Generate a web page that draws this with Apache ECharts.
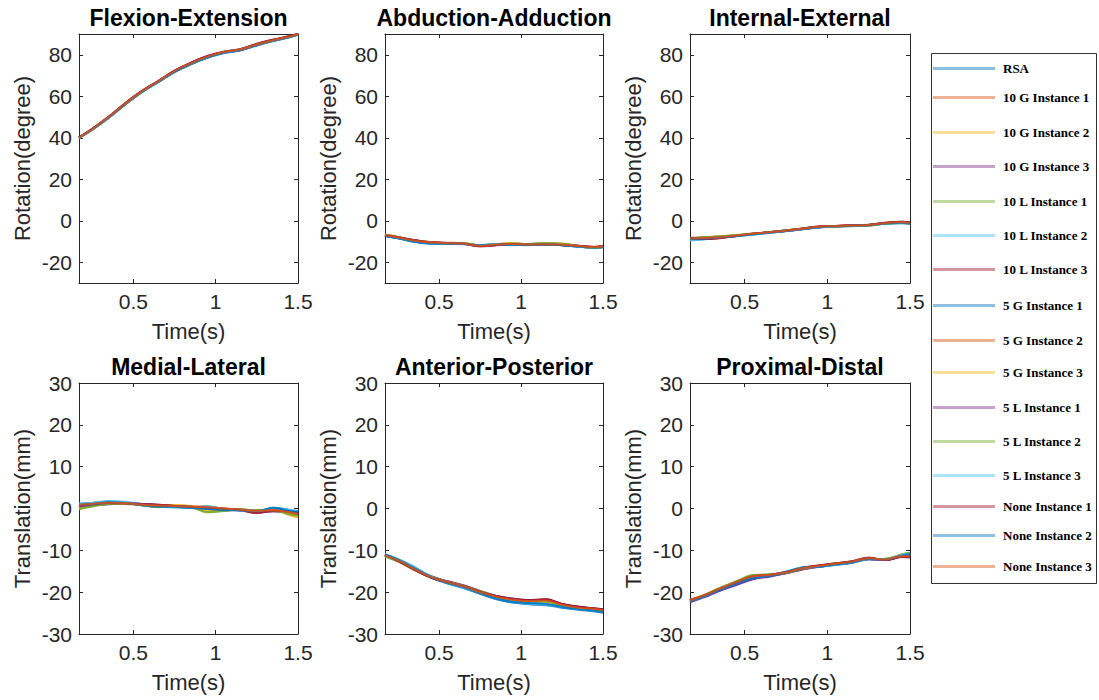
<!DOCTYPE html>
<html>
<head>
<meta charset="utf-8">
<script src="https://cdn.jsdelivr.net/npm/echarts@6/dist/echarts.min.js"></script>
<style>html,body{margin:0;padding:0;background:#fff}#c{width:1099px;height:700px}</style>
</head>
<body>
<div id="c"></div>
<script>
// ---------- data ----------
const time = [0.17, 0.25, 0.35, 0.45, 0.55, 0.65, 0.75, 0.85, 0.95, 1.05, 1.15, 1.25, 1.35, 1.45, 1.5];
const seriesNames = ['RSA','10 G Instance 1','10 G Instance 2','10 G Instance 3','10 L Instance 1','10 L Instance 2','10 L Instance 3','5 G Instance 1','5 G Instance 2','5 G Instance 3','5 L Instance 1','5 L Instance 2','5 L Instance 3','None Instance 1','None Instance 2','None Instance 3'];
const titles = ['Flexion-Extension','Abduction-Adduction','Internal-External','Medial-Lateral','Anterior-Posterior','Proximal-Distal'];
const rotTicks = [-20, 0, 20, 40, 60, 80];
const transTicks = [-30, -20, -10, 0, 10, 20, 30];
const timeTicks = [0.5, 1, 1.5];

const flexionExtension = [
 [40.1,44.2,49.6,56.0,62.0,66.8,71.6,75.4,78.5,80.8,82.2,84.5,86.6,88.5,89.7],
 [40.0,44.1,49.9,56.4,62.4,67.1,72.1,76.0,79.2,81.3,82.6,85.0,87.1,88.8,89.9],
 [39.9,43.9,49.7,56.1,62.1,67.0,71.9,75.7,78.9,81.1,82.4,84.9,86.9,88.6,89.8],
 [40.2,44.0,50.0,56.5,62.3,67.2,72.2,76.2,79.4,81.0,82.3,84.8,87.0,88.7,90.0],
 [40.0,43.8,49.6,56.0,62.0,66.9,71.8,75.6,78.8,81.2,82.6,85.1,87.2,88.9,89.8],
 [39.8,44.1,49.9,56.3,62.2,67.0,72.0,75.8,79.0,81.4,82.7,85.2,87.1,88.8,89.9],
 [40.1,44.3,50.1,56.6,62.5,67.3,72.3,76.1,79.3,81.5,82.8,85.3,87.3,89.0,90.1],
 [40.0,44.0,49.7,56.1,61.9,66.7,71.7,75.5,78.7,80.9,82.2,84.6,86.7,88.5,89.6],
 [40.1,44.2,50.0,56.4,62.3,67.1,72.1,75.9,79.1,81.3,82.6,85.0,87.0,88.8,89.9],
 [39.9,43.9,49.8,56.2,62.1,66.9,71.9,75.7,78.9,81.1,82.5,84.9,86.9,88.7,89.8],
 [40.0,44.1,49.9,56.3,62.2,67.0,72.0,75.9,79.2,81.2,82.4,84.8,86.9,88.6,89.8],
 [40.2,44.0,49.8,56.2,62.1,67.0,72.0,75.8,79.0,81.2,82.5,85.0,87.0,88.7,89.9],
 [39.9,43.8,49.6,56.0,62.0,66.8,71.8,75.6,78.8,81.0,82.4,84.8,86.8,88.6,89.7],
 [40.1,44.2,50.1,56.5,62.4,67.2,72.2,76.0,79.3,81.4,82.6,85.1,87.2,88.9,90.0],
 [40.0,44.0,49.8,56.1,62.0,66.9,71.8,75.6,78.8,81.0,82.3,84.7,86.8,88.6,89.8],
 [40.0,44.1,50.0,56.3,62.2,67.1,72.1,75.9,79.1,81.3,82.5,84.9,87.0,88.8,89.9]
];
const abductionAdduction = [
 [-7.2,-8.3,-10.0,-11.0,-11.1,-11.2,-11.8,-11.3,-11.4,-11.7,-11.5,-11.8,-12.4,-12.9,-12.6],
 [-6.8,-7.8,-9.3,-10.4,-10.6,-10.9,-12.1,-11.6,-11.0,-11.4,-11.1,-11.3,-12.0,-12.6,-12.1],
 [-7.0,-8.1,-9.6,-10.2,-10.9,-10.8,-11.9,-11.2,-10.8,-11.3,-10.9,-11.0,-12.1,-12.7,-12.2],
 [-7.3,-8.2,-9.4,-10.6,-10.7,-11.1,-12.2,-11.7,-11.3,-11.6,-11.3,-11.6,-12.3,-12.9,-12.4],
 [-6.9,-8.0,-9.7,-10.5,-11.0,-11.0,-12.0,-11.4,-11.1,-11.2,-10.8,-11.2,-12.4,-13.2,-12.8],
 [-7.1,-8.4,-10.1,-10.9,-11.2,-11.3,-11.7,-11.2,-11.5,-11.8,-11.4,-11.7,-12.3,-12.8,-12.5],
 [-7.0,-7.9,-9.4,-10.4,-10.7,-11.0,-12.3,-11.8,-11.2,-11.5,-11.4,-11.8,-12.2,-12.6,-12.0],
 [-7.4,-8.5,-10.2,-11.1,-11.2,-11.1,-11.9,-11.4,-11.6,-11.6,-11.5,-11.7,-12.5,-13.0,-12.7],
 [-6.9,-7.9,-9.5,-10.5,-10.8,-11.0,-12.0,-11.5,-11.2,-11.5,-11.2,-11.5,-12.2,-12.7,-12.2],
 [-7.0,-8.0,-9.6,-10.3,-10.9,-10.9,-11.8,-11.3,-10.9,-11.4,-11.0,-11.2,-12.2,-12.9,-12.5],
 [-7.2,-8.1,-9.5,-10.6,-10.8,-11.1,-12.1,-11.6,-11.2,-11.6,-11.3,-11.5,-12.2,-12.8,-12.3],
 [-6.8,-7.9,-9.6,-10.5,-10.9,-10.9,-11.9,-11.3,-11.0,-11.2,-10.8,-11.1,-12.3,-13.1,-12.7],
 [-7.1,-8.3,-9.9,-10.8,-11.1,-11.2,-11.8,-11.3,-11.4,-11.7,-11.4,-11.7,-12.4,-12.9,-12.5],
 [-7.0,-8.0,-9.4,-10.4,-10.8,-11.1,-12.3,-11.7,-11.2,-11.6,-11.4,-11.7,-12.1,-12.6,-12.1],
 [-7.3,-8.4,-10.0,-10.9,-11.1,-11.1,-11.8,-11.4,-11.5,-11.6,-11.5,-11.8,-12.4,-12.9,-12.6],
 [-7.0,-8.1,-9.6,-10.5,-10.8,-11.0,-12.1,-11.5,-11.2,-11.5,-11.3,-11.6,-12.2,-12.7,-12.3]
];
const internalExternal = [
 [-9.2,-8.8,-8.0,-7.4,-6.6,-5.8,-5.0,-4.1,-3.3,-2.8,-2.5,-2.3,-1.5,-1.2,-1.5],
 [-8.4,-8.2,-7.7,-7.0,-6.2,-5.5,-4.7,-3.8,-2.9,-2.5,-2.2,-2.0,-1.1,-0.6,-0.9],
 [-8.5,-8.0,-7.5,-6.9,-6.3,-5.6,-4.8,-3.9,-3.0,-2.7,-2.3,-2.2,-1.3,-0.9,-1.2],
 [-8.3,-8.3,-7.9,-7.2,-6.4,-5.7,-4.9,-4.0,-3.0,-2.6,-2.4,-2.1,-1.2,-0.8,-1.0],
 [-8.7,-8.1,-7.6,-7.1,-6.3,-5.5,-4.6,-3.8,-2.9,-2.7,-2.5,-2.3,-1.3,-0.9,-1.3],
 [-9.5,-9.0,-8.2,-7.5,-6.7,-5.9,-5.0,-4.1,-3.2,-2.8,-2.5,-2.2,-1.4,-1.1,-1.4],
 [-8.5,-8.7,-8.3,-7.3,-6.3,-5.6,-4.8,-3.7,-2.8,-2.5,-2.2,-1.9,-1.0,-0.5,-0.7],
 [-8.8,-8.5,-7.9,-7.2,-6.5,-5.7,-4.9,-4.0,-3.1,-2.7,-2.4,-2.2,-1.3,-0.9,-1.2],
 [-8.4,-8.2,-7.8,-7.1,-6.3,-5.5,-4.7,-3.8,-2.9,-2.6,-2.3,-2.0,-1.1,-0.7,-0.9],
 [-8.6,-8.1,-7.6,-7.0,-6.2,-5.5,-4.7,-3.9,-3.0,-2.6,-2.3,-2.2,-1.2,-0.8,-1.1],
 [-8.2,-8.2,-7.8,-7.2,-6.4,-5.6,-4.8,-4.0,-3.1,-2.7,-2.4,-2.1,-1.2,-0.8,-1.0],
 [-8.6,-8.0,-7.5,-7.0,-6.3,-5.5,-4.7,-3.8,-3.0,-2.8,-2.6,-2.3,-1.4,-1.0,-1.3],
 [-9.3,-8.9,-8.1,-7.4,-6.6,-5.8,-4.9,-4.0,-3.1,-2.7,-2.4,-2.1,-1.3,-1.0,-1.3],
 [-8.4,-8.8,-8.4,-7.3,-6.3,-5.5,-4.7,-3.7,-2.8,-2.5,-2.2,-2.0,-1.0,-0.5,-0.8],
 [-8.8,-8.6,-8.0,-7.3,-6.5,-5.7,-4.9,-4.0,-3.1,-2.7,-2.4,-2.2,-1.3,-1.0,-1.3],
 [-8.5,-8.3,-7.9,-7.1,-6.3,-5.6,-4.8,-3.9,-2.9,-2.6,-2.3,-2.1,-1.1,-0.7,-1.0]
];
const medialLateral = [
 [0.9,1.2,1.6,1.4,0.9,0.5,0.3,0.2,0.0,-0.3,-0.4,-0.7,0.0,-0.5,-0.7],
 [1.0,1.3,1.3,1.1,0.9,0.8,0.7,0.4,0.3,-0.1,-0.3,-0.5,-0.5,-1.0,-1.4],
 [0.3,0.8,1.1,1.2,1.0,0.6,0.8,0.5,-0.8,-0.4,-0.2,-0.5,-0.3,-1.5,-2.0],
 [0.4,0.7,1.0,1.2,1.1,0.9,0.6,0.3,0.2,0.0,-0.4,-0.9,-0.6,-0.9,-1.1],
 [-0.2,0.6,1.2,1.3,0.9,0.3,0.6,0.4,-0.9,-0.5,-0.3,-0.6,-0.4,-1.3,-1.8],
 [1.1,1.4,1.7,1.5,1.0,0.6,0.4,0.1,0.6,-0.2,-0.5,-0.8,0.2,-0.4,-0.8],
 [0.6,1.0,1.4,1.3,1.0,0.8,0.5,0.3,0.2,-0.2,-0.4,-1.0,-0.6,-0.8,-1.2],
 [0.8,1.1,1.5,1.4,0.8,0.5,0.4,0.2,0.0,-0.3,-0.3,-0.7,0.1,-0.4,-0.9],
 [1.0,1.2,1.4,1.2,1.0,0.8,0.6,0.5,0.4,0.0,-0.2,-0.5,-0.4,-0.9,-1.3],
 [0.2,0.9,1.2,1.1,1.0,0.5,0.8,0.6,-0.7,-0.3,-0.3,-0.6,-0.2,-1.6,-2.1],
 [0.5,0.8,1.1,1.3,1.1,0.8,0.6,0.4,0.1,-0.1,-0.4,-0.8,-0.7,-0.8,-1.0],
 [-0.1,0.5,1.1,1.2,0.8,0.4,0.5,0.3,-0.8,-0.6,-0.2,-0.5,-0.5,-1.4,-1.7],
 [1.2,1.3,1.8,1.6,1.1,0.7,0.3,0.2,0.5,-0.1,-0.4,-0.9,0.1,-0.3,-0.6],
 [0.7,1.1,1.3,1.2,1.1,0.9,0.6,0.4,0.2,-0.1,-0.3,-1.1,-0.5,-0.7,-1.1],
 [0.9,1.0,1.5,1.3,0.8,0.4,0.4,0.1,-0.1,-0.4,-0.4,-0.6,0.2,-0.6,-0.8],
 [0.9,1.1,1.4,1.3,0.9,0.7,0.6,0.4,0.3,0.0,-0.3,-0.6,-0.4,-0.9,-1.3]
];
const anteriorPosterior = [
 [-11.0,-12.2,-14.2,-16.5,-17.9,-19.0,-20.4,-21.7,-22.5,-22.9,-23.1,-23.7,-24.2,-24.6,-24.9],
 [-11.2,-12.5,-14.6,-16.4,-17.5,-18.5,-19.9,-21.0,-21.7,-22.0,-21.9,-22.9,-23.6,-24.0,-24.2],
 [-11.0,-12.4,-14.3,-16.2,-17.6,-18.7,-20.0,-21.1,-21.8,-22.1,-22.1,-23.1,-23.8,-24.1,-24.4],
 [-11.3,-12.6,-14.5,-16.3,-17.4,-18.4,-19.7,-20.9,-21.6,-21.9,-21.8,-22.9,-23.5,-23.9,-24.2],
 [-11.5,-12.7,-14.6,-16.2,-17.5,-18.6,-19.8,-21.2,-21.9,-22.2,-22.2,-23.2,-23.8,-24.1,-24.4],
 [-11.0,-12.1,-14.0,-16.2,-17.9,-19.0,-20.3,-21.6,-22.4,-22.8,-23.0,-23.6,-24.1,-24.5,-24.8],
 [-11.1,-12.6,-14.7,-16.5,-17.5,-18.5,-19.9,-21.0,-21.7,-21.9,-21.7,-22.8,-23.5,-23.9,-24.1],
 [-11.0,-12.2,-14.1,-16.4,-17.8,-18.9,-20.3,-21.6,-22.4,-22.7,-22.9,-23.6,-24.1,-24.5,-24.8],
 [-11.2,-12.5,-14.5,-16.4,-17.6,-18.6,-20.0,-21.1,-21.8,-22.1,-22.0,-23.0,-23.7,-24.0,-24.3],
 [-11.1,-12.4,-14.4,-16.3,-17.6,-18.7,-20.1,-21.2,-21.9,-22.2,-22.2,-23.1,-23.8,-24.2,-24.4],
 [-11.3,-12.5,-14.5,-16.2,-17.4,-18.4,-19.8,-20.9,-21.6,-22.0,-21.9,-23.0,-23.6,-24.0,-24.2],
 [-11.4,-12.6,-14.6,-16.3,-17.5,-18.5,-19.7,-21.1,-21.9,-22.2,-22.3,-23.2,-23.9,-24.2,-24.5],
 [-11.0,-12.2,-14.1,-16.3,-17.8,-18.9,-20.2,-21.5,-22.3,-22.7,-22.9,-23.5,-24.0,-24.4,-24.7],
 [-11.1,-12.5,-14.6,-16.5,-17.6,-18.6,-19.9,-21.0,-21.6,-21.9,-21.7,-22.8,-23.5,-23.9,-24.1],
 [-11.0,-12.3,-14.3,-16.4,-17.8,-18.8,-20.2,-21.5,-22.3,-22.6,-22.8,-23.5,-24.0,-24.4,-24.7],
 [-11.2,-12.4,-14.5,-16.4,-17.6,-18.6,-20.0,-21.1,-21.8,-22.1,-22.0,-23.0,-23.7,-24.0,-24.3]
];
const proximalDistal = [
 [-22.0,-21.0,-19.4,-18.0,-16.8,-16.1,-15.2,-14.1,-13.9,-13.4,-12.9,-12.1,-12.2,-11.2,-10.8],
 [-21.8,-20.8,-19.1,-17.5,-16.1,-15.8,-15.2,-14.3,-13.7,-13.2,-12.7,-11.9,-12.3,-11.5,-11.4],
 [-22.0,-20.9,-19.2,-17.6,-16.2,-15.9,-15.4,-14.4,-13.8,-13.2,-12.8,-12.1,-12.1,-11.1,-10.7],
 [-22.4,-21.3,-19.7,-18.3,-16.9,-16.3,-15.5,-14.6,-13.9,-13.4,-12.9,-12.2,-12.3,-11.5,-11.3],
 [-21.9,-20.8,-19.0,-17.4,-15.9,-15.8,-15.4,-14.5,-13.8,-13.1,-12.7,-12.1,-12.1,-11.0,-10.6],
 [-22.1,-21.1,-19.4,-17.9,-16.6,-16.0,-15.1,-14.1,-13.9,-13.5,-13.0,-12.0,-12.2,-11.2,-10.7],
 [-21.9,-20.9,-19.2,-17.6,-16.2,-15.9,-15.3,-14.2,-13.6,-13.1,-12.6,-11.8,-12.3,-11.6,-11.6],
 [-22.2,-21.1,-19.4,-18.0,-16.7,-16.1,-15.2,-14.1,-13.9,-13.4,-12.9,-12.1,-12.2,-11.3,-10.9],
 [-21.9,-20.9,-19.1,-17.6,-16.2,-15.9,-15.3,-14.3,-13.7,-13.2,-12.7,-11.9,-12.2,-11.4,-11.3],
 [-22.0,-21.0,-19.2,-17.7,-16.2,-15.9,-15.4,-14.4,-13.8,-13.3,-12.8,-12.0,-12.1,-11.2,-10.8],
 [-22.3,-21.2,-19.6,-18.2,-16.8,-16.2,-15.5,-14.5,-13.9,-13.4,-12.9,-12.1,-12.3,-11.4,-11.2],
 [-21.9,-20.8,-19.1,-17.5,-16.0,-15.8,-15.4,-14.4,-13.8,-13.2,-12.8,-12.1,-12.0,-11.0,-10.6],
 [-22.1,-21.1,-19.4,-17.9,-16.5,-16.0,-15.2,-14.1,-13.9,-13.5,-13.0,-12.1,-12.2,-11.1,-10.8],
 [-21.9,-20.9,-19.2,-17.7,-16.2,-15.9,-15.2,-14.2,-13.6,-13.2,-12.6,-11.8,-12.3,-11.6,-11.7],
 [-22.2,-21.1,-19.5,-18.0,-16.7,-16.1,-15.3,-14.2,-13.9,-13.4,-12.9,-12.1,-12.2,-11.3,-10.9],
 [-22.0,-20.9,-19.2,-17.6,-16.2,-15.9,-15.3,-14.3,-13.7,-13.2,-12.7,-11.9,-12.2,-11.4,-11.4]
];

// ---------- layout / style ----------
const panels = [flexionExtension, abductionAdduction, internalExternal, medialLateral, anteriorPosterior, proximalDistal];
const colors = ['#0072BD','#D95319','#EDB120','#7E2F8E','#77AC30','#4DBEEE','#A2142F'];
const colLeft = [79, 385, 690];
const colWidth = [219, 218, 220];
const rowTop = [34, 383];
const rowHeight = [249, 251];
const legendCenters = [70, 99, 134, 168, 203, 237, 271, 307, 342, 374, 409, 443, 477, 508, 537, 568];
const axisColor = '#262626';
const sans = 'Liberation Sans, Arial, sans-serif';

const grid = [], xAxis = [], yAxis = [], series = [], graphic = [], legend = [];
for (let p = 0; p < 6; p++) {
  const r = Math.floor(p / 3), c = p % 3;
  grid.push({ left: colLeft[c], top: rowTop[r], width: colWidth[c], height: rowHeight[r], containLabel: false });
  const isRot = r === 0;
  const yTicks = isRot ? rotTicks : transTicks;
  const yMin = -30, yMax = isRot ? 90 : 30;
  xAxis.push({
    type: 'value', gridIndex: p, position: 'bottom', min: 0.17, max: 1.5,
    axisLine: { show: true, onZero: false, lineStyle: { color: axisColor, width: 1 } },
    axisTick: { show: true, inside: true, length: 4, customValues: timeTicks, lineStyle: { color: axisColor } },
    axisLabel: { show: true, customValues: timeTicks, margin: 8, fontSize: 21, color: axisColor, fontFamily: sans, formatter: v => String(v) },
    splitLine: { show: false },
    name: 'Time(s)', nameLocation: 'middle', nameGap: 37,
    nameTextStyle: { fontSize: 22, color: axisColor, fontFamily: sans }
  });
  xAxis.push({
    type: 'value', gridIndex: p, position: 'top', min: 0.17, max: 1.5,
    axisLine: { show: true, onZero: false, lineStyle: { color: axisColor, width: 1 } },
    axisTick: { show: true, inside: true, length: 4, customValues: timeTicks, lineStyle: { color: axisColor } },
    axisLabel: { show: false }, splitLine: { show: false }
  });
  yAxis.push({
    type: 'value', gridIndex: p, position: 'left', min: yMin, max: yMax,
    axisLine: { show: true, onZero: false, lineStyle: { color: axisColor, width: 1 } },
    axisTick: { show: true, inside: true, length: 4, customValues: yTicks, lineStyle: { color: axisColor } },
    axisLabel: { show: true, customValues: yTicks, margin: 7, fontSize: 21, color: axisColor, fontFamily: sans },
    splitLine: { show: false },
    name: isRot ? 'Rotation(degree)' : 'Translation(mm)', nameLocation: 'middle', nameGap: 46,
    nameTextStyle: { fontSize: 22, color: axisColor, fontFamily: sans }
  });
  yAxis.push({
    type: 'value', gridIndex: p, position: 'right', min: yMin, max: yMax,
    axisLine: { show: true, onZero: false, lineStyle: { color: axisColor, width: 1 } },
    axisTick: { show: true, inside: true, length: 4, customValues: yTicks, lineStyle: { color: axisColor } },
    axisLabel: { show: false }, splitLine: { show: false }
  });
  graphic.push({
    type: 'text', x: colLeft[c] + colWidth[c] / 2, y: r === 0 ? 18 : 367,
    style: { text: titles[p], textAlign: 'center', textVerticalAlign: 'middle', font: 'bold 23px ' + sans, fill: '#000' }
  });
  const rows = panels[p];
  for (let s = 0; s < seriesNames.length; s++) {
    const col = colors[s % colors.length];
    series.push({
      type: 'line', name: seriesNames[s], xAxisIndex: p * 2, yAxisIndex: p * 2,
      data: time.map((t, i) => [t, rows[s][i]]),
      smooth: 0.4, showSymbol: false, symbol: 'none', silent: true,
      itemStyle: { color: col },
      lineStyle: { color: col, width: 2, opacity: 0.85 }
    });
  }
}
for (let i = 0; i < seriesNames.length; i++) {
  legend.push({
    data: [seriesNames[i]], left: 933, top: legendCenters[i] - 8, padding: 0,
    orient: 'vertical', icon: 'rect', itemWidth: 62, itemHeight: 3, selectedMode: false,
    itemStyle: { opacity: 0.45 },
    textStyle: { fontFamily: 'Liberation Serif, Times New Roman, serif', fontWeight: 'bold', fontSize: 13, color: '#000', padding: [0, 0, 0, 3] }
  });
}
graphic.push({
  type: 'rect', shape: { x: 931.5, y: 53.5, width: 165, height: 530 },
  style: { fill: 'none', stroke: '#333', lineWidth: 1 }, z: 10
});

const chart = echarts.init(document.getElementById('c'), null, { renderer: 'svg' });
chart.setOption({ animation: false, backgroundColor: '#fff', grid, xAxis, yAxis, series, legend, graphic });
</script>
</body>
</html>
